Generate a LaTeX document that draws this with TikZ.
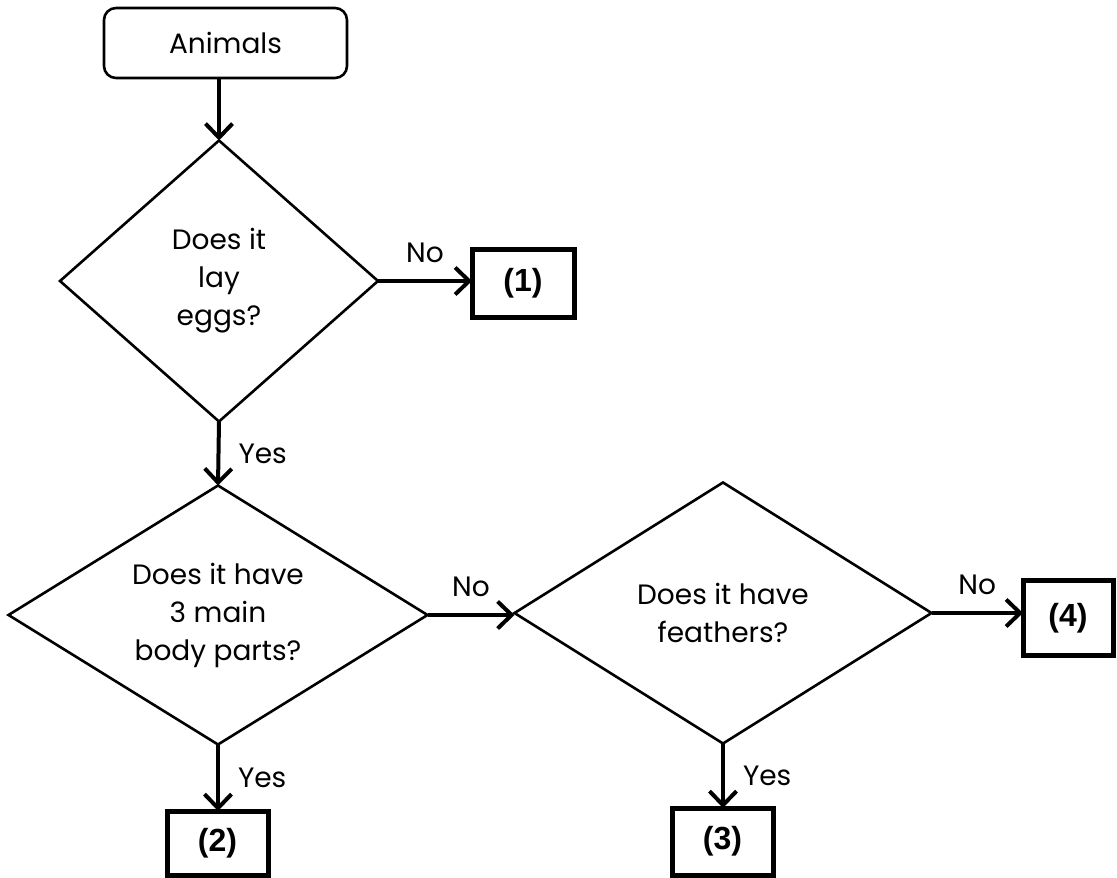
\documentclass[tikz,border=0pt]{standalone}
\usepackage{fontspec}
\setmainfont{Poppins}
\newfontfamily\boxfont{Liberation Sans}
\usetikzlibrary{shapes.geometric,arrows.meta}
\begin{document}
\begin{tikzpicture}[x=1pt,y=-1pt,
  every node/.style={font=\fontsize{28}{38}\selectfont},
  dec/.style={draw, line width=2.6pt, diamond, inner sep=0pt, outer sep=0pt, aspect=1.6, align=center},
  res/.style={draw, line width=5pt, inner sep=0pt, outer sep=0pt, font=\boxfont\bfseries\fontsize{32}{36}\selectfont},
  startbox/.style={draw, line width=2.6pt, rounded corners=12pt, minimum width=243pt, minimum height=70pt, inner sep=0pt, outer sep=0pt},
  conn/.style={line width=4pt, -{Straight Barb[length=14pt,width=27pt,line width=4pt]}},
  nolab/.style={midway, yshift=28pt, inner sep=0pt},
  yeslab/.style={midway, anchor=west, xshift=18pt, inner sep=0pt}
]
\useasboundingbox (0,0) rectangle (1117,878);
\node[startbox] (anim) at (225.5,43) {Animals};
\node[dec, minimum width=318pt, minimum height=281pt] (d1) at (219,281) {Does it\\lay\\eggs?};
\node[res, minimum width=102pt, minimum height=68pt] (b1) at (523,283) {(1)};
\node[dec, minimum width=419pt, minimum height=259pt] (d2) at (218,615) {Does it have\\3 main\\body parts?};
\node[dec, minimum width=417pt, minimum height=261pt] (d3) at (723,613) {Does it have\\feathers?};
\node[res, minimum width=90pt, minimum height=75pt] (b4) at (1068,618) {(4)};
\node[res, minimum width=101pt, minimum height=64pt] (b2) at (217.5,843) {(2)};
\node[res, minimum width=101pt, minimum height=67pt] (b3) at (722.5,841.5) {(3)};

\draw[conn] (anim.south -| d1.north) -- (d1.north);
\draw[conn] (d1.east) -- (d1.east -| b1.west) node[nolab] {No};
\draw[conn] (d1.south) -- (d2.north) node[yeslab] {Yes};
\draw[conn] (d2.east) -- (d2.east -| d3.west) node[nolab] {No};
\draw[conn] (d3.east) -- (d3.east -| b4.west) node[nolab] {No};
\draw[conn] (d2.south) -- (d2.south |- b2.north) node[yeslab] {Yes};
\draw[conn] (d3.south) -- (d3.south |- b3.north) node[yeslab] {Yes};
\end{tikzpicture}
\end{document}
